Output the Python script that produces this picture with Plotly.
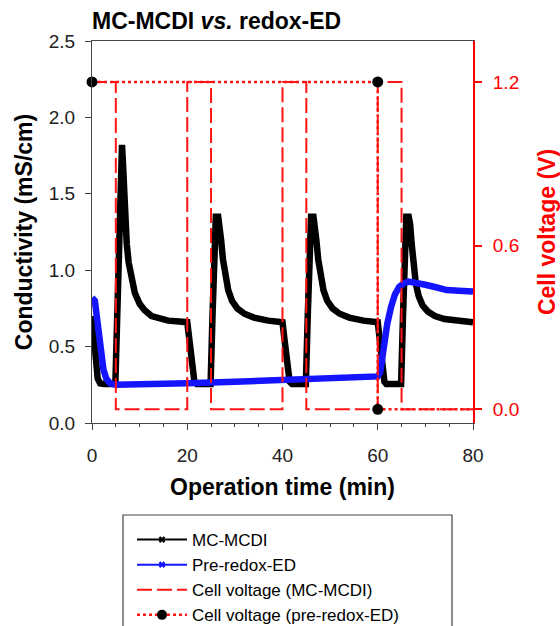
import plotly.graph_objects as go

# ---------------- data ----------------
mcmdi_t = [0, 0.4, 0.8, 1.2, 1.7, 2.5, 4.9,
           5.2, 5.6, 6.0, 6.3, 6.5, 6.7, 7.0, 7.3, 7.7, 8.2, 9.0, 10.0, 11.0, 12.5, 14, 16, 20.0,
           20.4, 21.0, 21.5, 22.0, 24.9,
           25.3, 25.7, 26.0, 26.5, 26.8, 27.1, 27.5, 28.0, 28.6, 29.4, 30.5, 32, 34, 37, 40.0,
           40.4, 41.0, 41.5, 42.0, 44.9,
           45.3, 45.7, 46.0, 46.5, 46.8, 47.1, 47.5, 48.0, 48.6, 49.4, 50.5, 52, 54, 57, 60.0,
           60.4, 60.9, 61.4, 61.8, 64.9,
           65.3, 65.7, 66.0, 66.5, 66.8, 67.1, 67.5, 68.0, 68.6, 69.4, 70.5, 72, 74, 77, 80]
mcmdi_cond = [0.70, 0.52, 0.38, 0.29, 0.26, 0.255, 0.255,
              0.60, 1.30, 1.82, 1.82, 1.70, 1.52, 1.32, 1.17, 1.05, 0.95, 0.85, 0.78, 0.74, 0.70, 0.685, 0.67, 0.66,
              0.55, 0.38, 0.27, 0.255, 0.255,
              0.70, 1.20, 1.35, 1.35, 1.30, 1.20, 1.07, 0.96, 0.87, 0.80, 0.75, 0.715, 0.69, 0.67, 0.66,
              0.55, 0.36, 0.27, 0.255, 0.255,
              0.70, 1.20, 1.35, 1.35, 1.30, 1.20, 1.07, 0.96, 0.87, 0.80, 0.75, 0.715, 0.69, 0.67, 0.66,
              0.55, 0.38, 0.27, 0.255, 0.255,
              0.70, 1.20, 1.35, 1.35, 1.30, 1.18, 1.02, 0.91, 0.83, 0.77, 0.73, 0.70, 0.68, 0.665, 0.66]

redox_t = [0, 0.6, 1.2, 1.8, 2.4, 3.0, 3.8, 5, 10, 20, 30, 40, 50, 60,
           60.5, 61.2, 62.0, 62.8, 63.6, 64.5, 65.5, 66.5, 68, 70, 72, 74.5, 77, 80]
redox_cond = [0.82, 0.80, 0.65, 0.47, 0.35, 0.29, 0.26, 0.25, 0.25, 0.26, 0.27, 0.28, 0.29, 0.305,
              0.33, 0.50, 0.65, 0.76, 0.84, 0.89, 0.915, 0.925, 0.92, 0.905, 0.89, 0.87, 0.865, 0.86]

volt_mcmdi_t = [0, 5, 5, 20, 20, 25, 25, 40, 40, 45, 45, 60, 60, 65, 65, 80]
volt_mcmdi = [1.2, 1.2, 0, 0, 1.2, 1.2, 0, 0, 1.2, 1.2, 0, 0, 1.2, 1.2, 0, 0]

volt_redox_t = [0, 60, 60, 80]
volt_redox = [1.2, 1.2, 0, 0]
volt_redox_marker_t = [0, 60, 60]
volt_redox_marker = [1.2, 1.2, 0]

x_ticks = [0, 20, 40, 60, 80]
y_ticks = [0.0, 0.5, 1.0, 1.5, 2.0, 2.5]
y2_ticks = [0.0, 0.6, 1.2]

names = ["MC-MCDI", "Pre-redox-ED", "Cell voltage (MC-MCDI)", "Cell voltage (pre-redox-ED)"]

# ---------------- styles ----------------
FONT = "Arial, Liberation Sans, sans-serif"
RED = "rgb(255,20,20)"
BLUE = "rgb(20,20,255)"
DASH = "15px,5px"
DOT = "3px,3px"

fig = go.Figure()

# data traces
fig.add_trace(go.Scatter(x=mcmdi_t, y=mcmdi_cond, mode="lines",
                         line=dict(color="black", width=6.5), showlegend=False))
fig.add_trace(go.Scatter(x=redox_t, y=redox_cond, mode="lines",
                         line=dict(color=BLUE, width=6.5), showlegend=False))
fig.add_trace(go.Scatter(x=volt_mcmdi_t, y=volt_mcmdi, yaxis="y2", mode="lines",
                         line=dict(color=RED, width=2, dash=DASH), showlegend=False))
fig.add_trace(go.Scatter(x=volt_redox_t, y=volt_redox, yaxis="y2", mode="lines",
                         line=dict(color=RED, width=2.5, dash=DOT), showlegend=False))
fig.add_trace(go.Scatter(x=volt_redox_marker_t, y=volt_redox_marker, yaxis="y2", mode="markers",
                         marker=dict(color="black", size=11), cliponaxis=False, showlegend=False))

# legend entries
fig.add_trace(go.Scatter(x=[None], y=[None], mode="lines+markers", name=names[0],
                         line=dict(color="black", width=2),
                         marker=dict(color="black", symbol="x", size=6)))
fig.add_trace(go.Scatter(x=[None], y=[None], mode="lines+markers", name=names[1],
                         line=dict(color=BLUE, width=2),
                         marker=dict(color=BLUE, symbol="x", size=6)))
fig.add_trace(go.Scatter(x=[None], y=[None], mode="lines", name=names[2],
                         line=dict(color=RED, width=2, dash=DASH)))
fig.add_trace(go.Scatter(x=[None], y=[None], mode="lines+markers", name=names[3],
                         line=dict(color=RED, width=2.5, dash=DOT),
                         marker=dict(color="black", size=10)))

W, H = 560, 626
L, R, T, B = 92, 87, 41, 203
pw, ph = W - L - R, H - T - B


def px2paper_x(px):
    return (px - L) / pw


def px2paper_y(py):
    return (H - B - py) / ph


fig.update_layout(
    width=W, height=H,
    margin=dict(l=L, r=R, t=T, b=B, autoexpand=False),
    paper_bgcolor="white", plot_bgcolor="white",
    font=dict(family=FONT, color="#222222", size=19),
    title=dict(text="<b>MC-MCDI <i>vs.</i> redox-ED</b>", x=L / W, xanchor="left",
               y=1 - 21 / H, yanchor="middle", yref="container",
               font=dict(size=23, color="black", family=FONT)),
    xaxis=dict(range=[0, 80], tickvals=x_ticks, showgrid=False, zeroline=False, automargin=False,
               showline=True, linecolor="#444444", linewidth=1.2, mirror=True,
               ticks="outside", ticklen=6, tickcolor="#444444", ticklabelstandoff=9,
               minor=dict(dtick=5, ticks="outside", ticklen=3, tickcolor="#444444", showgrid=False),
               title=dict(text="<b>Operation time (min)</b>", standoff=13,
                          font=dict(size=23, color="black"))),
    yaxis=dict(range=[0, 2.5], tickvals=y_ticks, tickformat=".1f", showgrid=False, zeroline=False,
               automargin=False,
               showline=True, linecolor="#444444", linewidth=1.2,
               ticks="outside", ticklen=6, tickcolor="#444444", ticklabelstandoff=6,
               title=dict(text="<b>Conductivity (mS/cm)</b>", standoff=9,
                          font=dict(size=23, color="black"))),
    yaxis2=dict(range=[-0.05, 1.35], overlaying="y", side="right", anchor="x", automargin=False,
                tickvals=y2_ticks, tickformat=".1f", showgrid=False, zeroline=False,
                showline=True, linecolor="red", linewidth=2,
                ticks="outside", ticklen=7, tickcolor="red", tickwidth=1.5, ticklabelstandoff=7,
                tickfont=dict(color="red", size=19),
                title=dict(text="<b>Cell voltage (V)</b>", standoff=21,
                           font=dict(size=23, color="red"))),
    legend=dict(x=px2paper_x(132), y=px2paper_y(522), xanchor="left", yanchor="top",
                bgcolor="rgba(0,0,0,0)", borderwidth=0,
                font=dict(size=17, color="black", family=FONT),
                itemwidth=50, tracegroupgap=0),
    shapes=[dict(type="rect", xref="paper", yref="paper",
                 x0=px2paper_x(123), x1=px2paper_x(452),
                 y0=px2paper_y(640), y1=px2paper_y(515),
                 line=dict(color="#444444", width=1.2), fillcolor="rgba(0,0,0,0)", layer="below")],
)

fig.write_html("out.html", config={"displayModeBar": False},
               post_script="document.body.style.margin='0';document.body.style.padding='0';"
                           "document.body.style.overflow='hidden';")
